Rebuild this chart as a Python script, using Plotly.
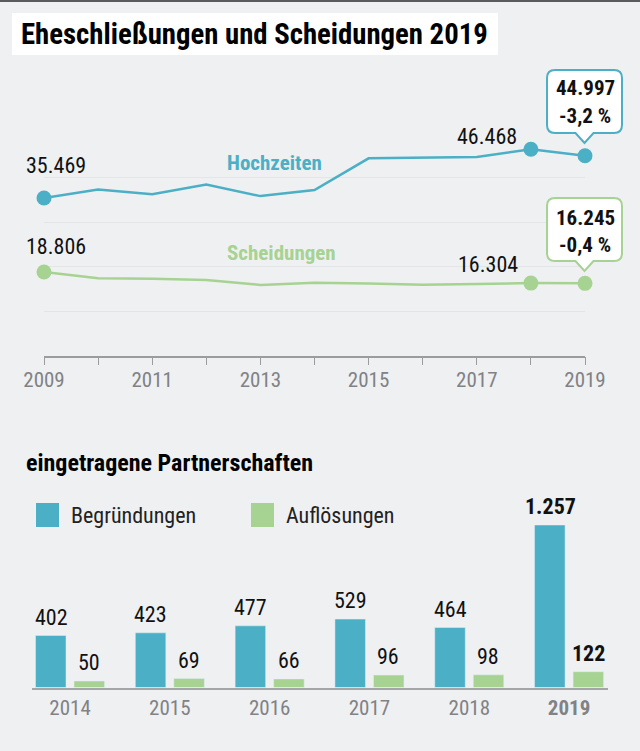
import plotly.graph_objects as go

# Daten Eheschliessungen / Scheidungen
jahre = [2009, 2010, 2011, 2012, 2013, 2014, 2015, 2016, 2017, 2018, 2019]
hochzeiten = [35469, 37400, 36300, 38500, 35900, 37250, 44400, 44600, 44700, 46468, 44997]
scheidungen = [18806, 17400, 17300, 17000, 15900, 16400, 16200, 15950, 16100, 16304, 16245]
jahr_labels = ['2009', '', '2011', '', '2013', '', '2015', '', '2017', '', '2019']
gitter = [0, 10000, 20000, 30000, 40000, 50000]

# Daten Partnerschaften
bar_jahre = ['2014', '2015', '2016', '2017', '2018', '2019']
bar_labels = ['2014', '2015', '2016', '2017', '2018', '<b>2019</b>']
begruendungen = [402, 423, 477, 529, 464, 1257]
aufloesungen = [50, 69, 66, 96, 98, 122]

BLAU = '#4bafc5'
GRUEN = '#a6d392'
HG = '#eff0f2'
GRAU = '#808285'
SCHWARZ = '#111111'
FONT = 'Roboto Condensed'
W, H = 640, 751


def fx(x):
    return x / W


def fy(y):
    return 1 - y / H


def de(n):
    return f'{n:,}'.replace(',', '.')


# Sprechblase mit Spitze nach unten
def blase(x0, x1, y0, y1, spitze, farbe):
    r = 8
    m = (x0 + x1) / 2
    p = [('M', x0 + r, y0), ('L', x1 - r, y0), ('Q', x1, y0, x1, y0 + r), ('L', x1, y1 - r),
         ('Q', x1, y1, x1 - r, y1), ('L', m + 9, y1), ('L', m, spitze), ('L', m - 9, y1),
         ('L', x0 + r, y1), ('Q', x0, y1, x0, y1 - r), ('L', x0, y0 + r), ('Q', x0, y0, x0 + r, y0)]
    path = ''
    for s in p:
        path += s[0]
        for i in range(1, len(s), 2):
            path += f' {fx(s[i]):.5f},{fy(s[i + 1]):.5f} '
    path += 'Z'
    return dict(type='path', xref='paper', yref='paper', path=path, fillcolor='white',
                line=dict(color=farbe, width=2), layer='above')


def text(x, y, t, size=20, color=SCHWARZ, anchor='center'):
    return dict(xref='paper', yref='paper', x=fx(x), y=fy(y), text=t, showarrow=False, xanchor=anchor,
                yanchor='middle', font=dict(family=FONT, size=size, color=color))


# Zahl direkt am Datenpunkt
def wert(x, y, t, dx, dy):
    return dict(xref='x', yref='y', x=x, y=y, text=t, showarrow=False, xshift=dx, yshift=dy,
                font=dict(family=FONT, size=22, color=SCHWARZ))


# Zahl ueber einem Balken, i ist die Position auf der Kategorie-Achse
def bar_wert(i, v, dx):
    t = de(v)
    if bar_jahre[i] == '2019':
        t = f'<b>{t}</b>'
    return dict(xref='x2', yref='y2', x=i, y=v, text=t, showarrow=False, xshift=dx, yshift=18.5,
                yanchor='middle', font=dict(family=FONT, size=22, color=SCHWARZ))


fig = go.Figure()

# Linien
fig.add_trace(go.Scatter(x=jahre, y=hochzeiten, mode='lines', line=dict(color=BLAU, width=2.5),
                         xaxis='x', yaxis='y', cliponaxis=False))
fig.add_trace(go.Scatter(x=jahre, y=scheidungen, mode='lines', line=dict(color=GRUEN, width=2.5),
                         xaxis='x', yaxis='y', cliponaxis=False))
idx = [0, 9, 10]
fig.add_trace(go.Scatter(x=[jahre[i] for i in idx], y=[hochzeiten[i] for i in idx], mode='markers',
                         marker=dict(color=BLAU, size=15), xaxis='x', yaxis='y', cliponaxis=False))
fig.add_trace(go.Scatter(x=[jahre[i] for i in idx], y=[scheidungen[i] for i in idx], mode='markers',
                         marker=dict(color=GRUEN, size=15), xaxis='x', yaxis='y', cliponaxis=False))

# Balken
fig.add_trace(go.Bar(x=bar_jahre, y=begruendungen, marker_color=BLAU, xaxis='x2', yaxis='y2', cliponaxis=False))
fig.add_trace(go.Bar(x=bar_jahre, y=aufloesungen, marker_color=GRUEN, xaxis='x2', yaxis='y2', cliponaxis=False))

shapes = [
    dict(type='rect', xref='paper', yref='paper', x0=0, x1=1, y0=fy(2), y1=1, fillcolor='#5a5b5d', line_width=0),
    dict(type='rect', xref='paper', yref='paper', x0=fx(12), x1=fx(498), y0=fy(55), y1=fy(13),
         fillcolor='white', line_width=0, layer='below'),
    dict(type='rect', xref='paper', yref='paper', x0=fx(36), x1=fx(59), y0=fy(527), y1=fy(503),
         fillcolor=BLAU, line_width=0),
    dict(type='rect', xref='paper', yref='paper', x0=fx(251), x1=fx(274), y0=fy(527), y1=fy(503),
         fillcolor=GRUEN, line_width=0),
    blase(547, 622, 70, 133, 143, BLAU),
    blase(547, 622, 198, 261, 271, GRUEN),
]

annotations = [
    text(19, 34, '<b>Eheschließungen und Scheidungen 2019</b>', 28.75, '#000000', 'left'),
    text(24, 463, '<b>eingetragene Partnerschaften</b>', 24, '#000000', 'left'),
    text(69, 515, 'Begründungen', 22, '#222222', 'left'),
    text(284, 515, 'Auflösungen', 22, '#222222', 'left'),
    text(274, 163, '<b>Hochzeiten</b>', 21, BLAU),
    text(281, 253, '<b>Scheidungen</b>', 21, GRUEN),
    wert(jahre[0], hochzeiten[0], de(hochzeiten[0]), 12, 33),
    wert(jahre[0], scheidungen[0], de(scheidungen[0]), 12, 26),
    wert(jahre[9], hochzeiten[9], de(hochzeiten[9]), -44, 13),
    wert(jahre[9], scheidungen[9], de(scheidungen[9]), -43, 19),
    text(585, 88, f'<b>{de(hochzeiten[10])}</b>', 21),
    text(585, 116, '<b>-3,2 %</b>', 21),
    text(585, 218, f'<b>{de(scheidungen[10])}</b>', 21),
    text(585, 245, '<b>-0,4 %</b>', 21),
]
for i, v in enumerate(begruendungen):
    annotations.append(bar_wert(i, v, -19))
for i, v in enumerate(aufloesungen):
    annotations.append(bar_wert(i, v, 19))

fig.update_layout(
    width=W, height=H, margin=dict(l=0, r=0, t=0, b=0, autoexpand=False),
    paper_bgcolor=HG, plot_bgcolor=HG, showlegend=False,
    barmode='group', bargap=0.228, bargroupgap=0.208,
    font=dict(family=FONT),
    shapes=shapes, annotations=annotations,
    xaxis=dict(domain=[fx(44), fx(585)], range=[2009, 2019], tickvals=jahre, ticktext=jahr_labels,
               ticks='outside', ticklen=8, tickcolor='#9a9c9e', showline=True, linecolor='#9a9c9e', linewidth=1.5,
               ticklabelstandoff=-3, showgrid=False, zeroline=False,
               tickfont=dict(family=FONT, size=21, color=GRAU), anchor='y'),
    yaxis=dict(domain=[fy(355.5), fy(133.5)], range=[0, 50000], tickvals=gitter, showticklabels=False,
               gridcolor='#e4e5e7', gridwidth=1, zeroline=False, anchor='x'),
    xaxis2=dict(domain=[fx(32), fx(608)], range=[-0.381, 5.39], tickvals=bar_jahre, ticktext=bar_labels,
                type='category', ticks='', showline=True, linecolor='#a3a5a7', linewidth=1.5, showgrid=False,
                ticklabelstandoff=1, zeroline=False, tickfont=dict(family=FONT, size=21, color=GRAU), anchor='y2'),
    yaxis2=dict(domain=[fy(687.5), fy(525)], range=[0, 1257], visible=False, anchor='x2'),
)

fig.write_html("out.html", config=dict(displayModeBar=False), post_script="document.body.style.margin='0';")
